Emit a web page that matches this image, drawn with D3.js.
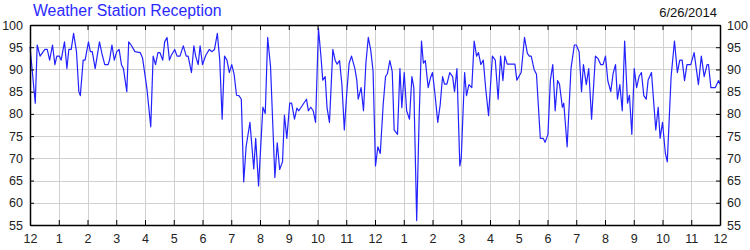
<!DOCTYPE html>
<html>
<head>
<meta charset="utf-8">
<script src="https://cdn.jsdelivr.net/npm/d3@7"></script>
<style>
  body { margin: 0; background: #fff; }
  svg { display: block; font-family: Arial, "Liberation Sans", sans-serif; }
</style>
</head>
<body>
<svg id="chart" width="750" height="250"></svg>
<script>
// Reception readings for one day.
// minutes since midnight and percent of packets received.
var minutes = [0, 11, 15, 21, 31, 36, 41, 47, 52, 56, 61, 65, 72, 77, 81, 86, 91, 97, 102, 105,
  111, 115, 122, 126, 130, 136, 145, 150, 156, 163, 166, 171, 176, 181, 186, 191, 195, 202, 206, 211,
  219, 230, 235, 244, 252, 257, 262, 267, 271, 277, 281, 286, 291, 295, 302, 307, 313, 320, 326, 330,
  337, 342, 346, 351, 355, 360, 367, 374, 380, 385, 391, 396, 401, 406, 411, 416, 421, 426, 431, 436,
  441, 446, 451, 459, 467, 471, 477, 486, 491, 496, 502, 511, 516, 521, 527, 531, 536, 542, 546, 552,
  557, 561, 569, 577, 581, 586, 591, 596, 602, 607, 611, 616, 620, 625, 632, 637, 641, 646, 651, 656,
  661, 666, 671, 678, 682, 685, 691, 696, 701, 706, 711, 716, 721, 726, 731, 737, 742, 746, 751, 756,
  760, 767, 772, 776, 781, 786, 792, 797, 801, 807, 812, 817, 821, 825, 831, 836, 840, 845, 851, 856,
  861, 865, 870, 876, 882, 886, 891, 897, 900, 907, 911, 916, 922, 927, 932, 936, 941, 946, 951, 957,
  965, 971, 977, 982, 987, 991, 996, 1012, 1016, 1025, 1032, 1038, 1042, 1046, 1052, 1057, 1065, 1071, 1075, 1081,
  1086, 1091, 1096, 1101, 1105, 1111, 1114, 1121, 1129, 1136, 1140, 1146, 1151, 1155, 1161, 1166, 1172, 1180, 1185, 1191,
  1196, 1201, 1206, 1212, 1217, 1222, 1226, 1231, 1236, 1241, 1247, 1251, 1256, 1261, 1266, 1271, 1276, 1281, 1286, 1290,
  1297, 1306, 1311, 1315, 1320, 1326, 1330, 1338, 1345, 1351, 1356, 1361, 1366, 1371, 1379, 1386, 1395, 1401, 1407, 1413,
  1416, 1421, 1430, 1437, 1440];

var reception = [95.1, 82.4, 95.5, 93.0, 94.5, 94.5, 92.1, 95.5, 91.1, 93.0, 93.0, 92.1, 96.2, 90.2, 94.5, 94.5, 98.1, 94.0, 85.0, 84.1,
  92.1, 92.1, 96.2, 94.0, 94.0, 90.2, 96.2, 93.6, 91.1, 91.1, 92.1, 95.5, 92.1, 94.0, 94.5, 91.0, 90.2, 85.0, 96.2, 95.5,
  94.0, 93.8, 92.5, 85.7, 77.1, 93.0, 91.1, 93.8, 93.8, 92.1, 96.2, 97.2, 92.1, 93.2, 94.5, 93.0, 93.0, 95.3, 93.0, 93.0,
  89.3, 95.3, 92.9, 91.1, 95.3, 91.1, 93.2, 94.5, 94.0, 94.5, 98.1, 92.1, 78.8, 93.0, 92.1, 89.3, 91.1, 88.9, 84.2, 84.1,
  83.3, 64.7, 72.6, 78.1, 67.6, 74.5, 63.8, 81.5, 80.1, 97.2, 90.6, 65.7, 73.5, 67.5, 69.2, 79.7, 74.5, 82.4, 82.4, 78.8,
  81.3, 80.7, 82.0, 83.3, 80.7, 81.5, 80.7, 78.1, 99.2, 93.2, 87.6, 88.4, 81.3, 78.1, 94.5, 92.0, 91.2, 92.0, 86.5, 76.4,
  84.6, 91.4, 93.0, 90.2, 87.6, 83.3, 85.9, 80.7, 91.4, 97.2, 94.4, 89.6, 68.3, 72.6, 71.1, 82.0, 88.4, 89.1, 92.0, 89.5,
  76.4, 75.4, 90.2, 81.4, 89.3, 80.7, 78.8, 88.4, 85.9, 56.0, 78.6, 96.4, 91.4, 92.0, 85.9, 88.2, 89.3, 84.6, 78.1, 82.0,
  88.4, 86.7, 86.7, 89.3, 88.4, 85.0, 90.2, 68.3, 70.0, 89.3, 84.1, 86.6, 85.9, 96.4, 93.0, 93.8, 91.1, 92.1, 85.7, 79.6,
  93.0, 92.1, 83.3, 93.0, 87.5, 93.0, 91.2, 91.2, 87.6, 89.3, 97.2, 93.6, 93.0, 93.0, 90.0, 88.9, 74.5, 74.5, 73.6, 75.4,
  87.6, 91.1, 80.7, 87.5, 86.7, 81.5, 82.4, 72.6, 90.2, 95.5, 95.5, 94.0, 85.0, 91.1, 86.6, 90.2, 78.8, 93.0, 92.5, 91.1,
  91.1, 93.0, 87.4, 85.0, 89.1, 91.1, 83.3, 86.6, 80.7, 96.4, 82.4, 84.2, 75.4, 90.2, 85.9, 88.4, 89.3, 84.1, 83.3, 87.6,
  89.3, 76.4, 81.5, 74.5, 78.1, 71.1, 69.2, 88.4, 96.4, 89.3, 92.1, 92.1, 87.5, 91.1, 91.1, 93.8, 86.6, 93.0, 88.4, 91.1,
  91.1, 85.9, 85.9, 87.5, 86.7];

var hourLabels = ['12', '1', '2', '3', '4', '5', '6', '7', '8', '9', '10', '11',
  '12', '1', '2', '3', '4', '5', '6', '7', '8', '9', '10', '11', '12'];
var yTicks = [55, 60, 65, 70, 75, 80, 85, 90, 95, 100];
var title = 'Weather Station Reception';
var dateText = '6/26/2014';

var svg = d3.select('#chart');
var margin = {top: 25, right: 30, bottom: 25, left: 30};
var width = 750, height = 250;

var x = d3.scaleLinear()
  .domain([0, 1440])
  .range([margin.left, width - margin.right]);
var y = d3.scaleLinear()
  .domain([55, 100])
  .range([height - margin.bottom, margin.top]);

var hourTicks = hourLabels.map((d, i) => i * 60);

// grid lines
var grid = svg.append('g').attr('stroke', '#d0d0d0').attr('stroke-width', 1);
grid.selectAll('line.v')
  .data(hourTicks.slice(1, -1))
  .join('line')
  .attr('x1', d => Math.round(x(d)) + 0.5).attr('x2', d => Math.round(x(d)) + 0.5)
  .attr('y1', y(100)).attr('y2', y(55));
grid.selectAll('line.h')
  .data(yTicks.slice(1, -1))
  .join('line')
  .attr('x1', x(0)).attr('x2', x(1440))
  .attr('y1', d => Math.round(y(d)) + 0.5).attr('y2', d => Math.round(y(d)) + 0.5);

// data line
var line = d3.line()
  .x((d, i) => x(minutes[i]))
  .y(d => y(d));
svg.append('path')
  .datum(reception)
  .attr('fill', 'none')
  .attr('stroke', '#2222ff')
  .attr('stroke-width', 1.2)
  .attr('stroke-linejoin', 'round')
  .attr('d', line);

// axes, ticks point inward
var fmtHour = (d, i) => hourLabels[i];
var axisB = d3.axisBottom(x).tickValues(hourTicks).tickFormat(fmtHour).tickSizeInner(-5).tickSizeOuter(0).tickPadding(9);
var axisT = d3.axisTop(x).tickValues(hourTicks).tickFormat(() => '').tickSizeInner(-5).tickSizeOuter(0);
var axisL = d3.axisLeft(y).tickValues(yTicks).tickSizeInner(-4).tickSizeOuter(0).tickPadding(7);
var axisR = d3.axisRight(y).tickValues(yTicks).tickSizeInner(-4).tickSizeOuter(0).tickPadding(7);

var axes = [
  svg.append('g').attr('transform', `translate(0,${y(55)})`).call(axisB),
  svg.append('g').attr('transform', `translate(0,${y(100)})`).call(axisT),
  svg.append('g').attr('transform', `translate(${x(0)},0)`).call(axisL),
  svg.append('g').attr('transform', `translate(${x(1440)},0)`).call(axisR)
];
axes.forEach(a => {
  a.selectAll('.domain').attr('stroke', '#000').attr('stroke-width', 1.5);
  a.selectAll('.tick line').attr('stroke', '#000');
  a.selectAll('text').attr('fill', '#222').style('font-size', '12.5px').style('font-family', 'Arial, "Liberation Sans", sans-serif');
});

// title and date
svg.append('text')
  .attr('x', 33).attr('y', 16)
  .attr('fill', '#2a2aff')
  .style('font-size', '15.8px')
  .text(title);
svg.append('text')
  .attr('x', 717).attr('y', 17)
  .attr('text-anchor', 'end')
  .attr('fill', '#111')
  .style('font-size', '13px')
  .text(dateText);
</script>
</body>
</html>
